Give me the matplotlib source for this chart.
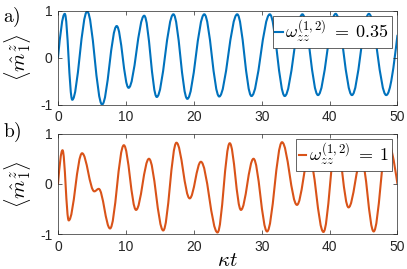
import numpy as np
import matplotlib
matplotlib.use("Agg")
import matplotlib.pyplot as plt
from matplotlib.path import Path
from matplotlib.patches import PathPatch
from matplotlib.lines import Line2D

plt.rcParams['font.family'] = ['Liberation Sans', 'DejaVu Sans']
plt.rcParams['mathtext.fontset'] = 'cm'

# turning points: time (kappa t) and <m_1^z>
t_a = [0, 1.0, 2.1, 4.3, 6.5, 8.65, 10.4, 12.7, 14.55, 17.0, 19.05, 21.55,
       23.75, 26.4, 28.5, 31.2, 33.4, 36.0, 38.3, 40.9, 43.3, 45.8, 48.35, 50]
m_a = [0, 0.93, -0.90, 0.98, -1.0, 0.67, -0.645, 0.89, -0.84, 0.92, -0.88, 0.92,
       -0.83, 0.92, -0.82, 0.92, -0.82, 0.92, -0.80, 0.93, -0.80, 0.93, -0.80, 0.47]

t_b = [0, 0.67, 1.58, 3.55, 5.35, 6.0, 7.67, 9.7, 11.5, 13.4, 15.5, 17.45, 19.4,
       21.05, 23.5, 25.3, 26.95, 28.8, 30.8, 33.0, 35.2, 37.0, 39.1, 41.0, 42.8,
       44.7, 46.5, 48.5, 50]
m_b = [0, 0.67, -0.73, 0.61, -0.15, -0.10, -0.89, 0.77, -0.52, 0.50, -0.93, 0.82, -0.29,
       0.44, -0.97, 0.81, -0.52, 0.50, -0.95, 0.83, -0.42, 0.55, -0.96, 0.85, -0.47,
       0.50, -0.95, 0.85, 0.0]

series = [(t_a, m_a), (t_b, m_b)]
legend_labels = [r'$\omega_{zz}^{(1,2)}\;=\;0.35$', r'$\omega_{zz}^{(1,2)}\;=\;1$']
panel_tags = [r'$\mathrm{a)}$', r'$\mathrm{b)}$']
x_ticks = [0, 10, 20, 30, 40, 50]
y_ticks = [-1, 0, 1]
colors = ['#0072BD', '#D95319']


def smooth_path(t, y):
    # cubic pieces between turning points, flat tangent at each extremum
    verts = [(t[0], y[0])]
    codes = [Path.MOVETO]
    n = len(t)
    for i in range(n - 1):
        dx = t[i + 1] - t[i]
        sec = (y[i + 1] - y[i]) / dx
        if i == 0:
            c1 = (t[i] + dx / 3, y[i] + sec * np.pi / 2 * dx / 3)
        else:
            c1 = (t[i] + 0.363 * dx, y[i])
        if i == n - 2:
            c2 = (t[i + 1] - dx / 3, y[i + 1] - sec * np.pi / 2 * dx / 3)
        else:
            c2 = (t[i + 1] - 0.363 * dx, y[i + 1])
        verts += [c1, c2, (t[i + 1], y[i + 1])]
        codes += [Path.CURVE4] * 3
    return Path(verts, codes)


fig = plt.figure(figsize=(4.07, 2.69), dpi=100)
boxes = [[0.1425, 0.6115, 0.834, 0.3494], [0.1425, 0.1301, 0.834, 0.373]]
tag_y = [1 - 6 / 269, 1 - 121 / 269]

for k, (t, m) in enumerate(series):
    ax = fig.add_axes(boxes[k])
    ax.add_patch(PathPatch(smooth_path(t, m), fill=False, edgecolor=colors[k],
                           lw=1.5, capstyle='round', joinstyle='round'))
    ax.set_xlim(0, 50)
    ax.set_ylim(-1, 1)
    ax.set_xticks(x_ticks)
    ax.set_yticks(y_ticks)
    ax.set_yticklabels(['-1', '0', '1'])
    ax.tick_params(direction='in', top=True, right=True, length=3, width=0.5,
                   colors='#262626', labelsize=10, pad=4)
    for s in ax.spines.values():
        s.set_color('#262626')
        s.set_linewidth(0.5)
    ax.set_ylabel(r'$\langle \hat{m}_1^z \rangle$', fontsize=15)
    ax.yaxis.set_label_coords(-0.074, 0.5)
    ax.legend(handles=[Line2D([], [], color=colors[k], lw=1.5)],
              labels=[legend_labels[k]], loc='upper right', fontsize=13,
              handlelength=0.4, handletextpad=0.15, borderpad=0.15,
              borderaxespad=0.3, fancybox=False, framealpha=1,
              edgecolor='#262626').get_frame().set_linewidth(0.5)
    fig.text(3 / 407, tag_y[k], panel_tags[k], fontsize=14, va='top', ha='left')
    if k == 1:
        ax.set_xlabel(r'$\kappa t$', fontsize=15)
        ax.xaxis.set_label_coords(0.5, -0.165)

fig.savefig('out.png', dpi=100)
